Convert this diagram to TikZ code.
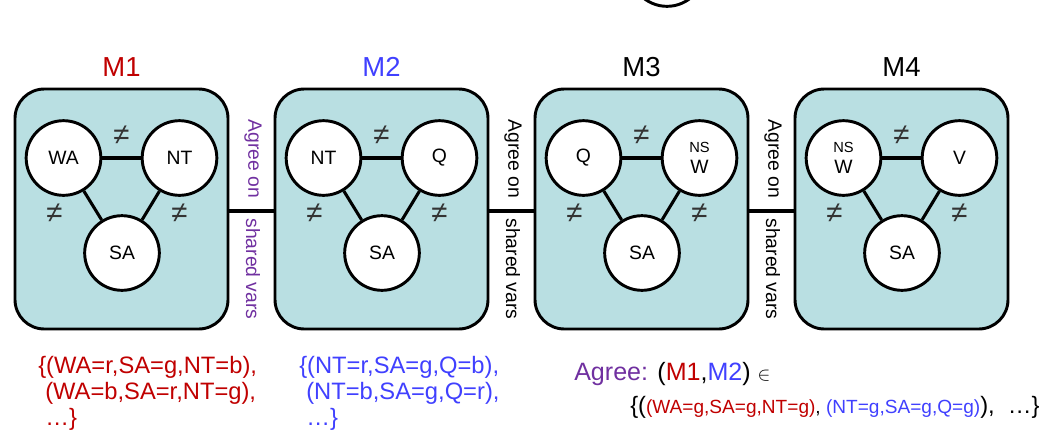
\documentclass[tikz,border=0pt]{standalone}
\usepackage{fontspec}
\setmainfont{Liberation Sans}
\usetikzlibrary{calc}
\definecolor{boxfill}{HTML}{B9DFE2}
\definecolor{mred}{HTML}{C00000}
\definecolor{mblue}{HTML}{4040FF}
\definecolor{mpurple}{HTML}{7030A0}
\newcommand{\mymodule}[6]{%
  \node[boxnode] (#1box) at (#2,209) {};
  \node[titlelab, text=#6] (#1title) at (#2,67) {#5};
  \node[varnode] (#1a) at (#2-58,158) {#3};
  \node[varnode] (#1b) at (#2+58,158) {#4};
  \node[varnode] (#1c) at (#2+0.5,253) {SA};
  \draw[cedge] (#1a) -- (#1b);
  \draw[cedge] (#1a) -- (#1c);
  \draw[cedge] (#1b) -- (#1c);
  \node[neqlab] (#1n1) at (#2,135) {≠};
  \node[neqlab] (#1n2) at (#2-67,213) {≠};
  \node[neqlab] (#1n3) at (#2+58,213) {≠};
}
\begin{document}
\begin{tikzpicture}[x=0.75pt,y=-0.75pt,
  boxnode/.style={draw, line width=2.2pt, fill=boxfill, rounded corners=22pt, minimum width=159.75pt, minimum height=180pt, inner sep=0},
  varnode/.style={circle, draw, line width=2.2pt, fill=white, minimum size=56pt, inner sep=0, font=\fontsize{14.5}{16}\selectfont, align=center},
  neqlab/.style={font=\fontsize{22}{24}\selectfont, inner sep=0, text=black!80},
  cedge/.style={line width=2.3pt},
  titlelab/.style={font=\fontsize{20.6}{24}\selectfont},
  agreelab/.style={rotate=-90, font=\fontsize{14.5}{16}\selectfont, inner sep=0},
  settext/.style={anchor=base west, inner sep=0, font=\fontsize{17.8}{20}\selectfont}
]
\useasboundingbox (0,0) rectangle (1054,440);
\node[varnode] (topc) at (667,-31) {};
\mymodule{m1}{121.5}{WA}{NT}{M1}{mred}
\mymodule{m2}{381.5}{NT}{Q}{M2}{mblue}
\mymodule{m3}{641.5}{Q}{\fontsize{11}{15}\selectfont NS\\W}{M3}{black}
\mymodule{m4}{901.5}{\fontsize{11}{15}\selectfont NS\\W}{V}{M4}{black}
\draw[cedge] ([yshift=-1.5pt]m1box.east) -- ([yshift=-1.5pt]m2box.west);
\draw[cedge] ([yshift=-1.5pt]m2box.east) -- ([yshift=-1.5pt]m3box.west);
\draw[cedge] ([yshift=-1.5pt]m3box.east) -- ([yshift=-1.5pt]m4box.west);
\node[agreelab, text=mpurple] (g1a) at (253,159) {Agree on};
\node[agreelab, text=mpurple] (g1b) at (253,269) {shared vars};
\node[agreelab] (g2a) at (513,159) {Agree on};
\node[agreelab] (g2b) at (513,269) {shared vars};
\node[agreelab] (g3a) at (773,159) {Agree on};
\node[agreelab] (g3b) at (773,269) {shared vars};
\node[settext, text=mred] (r1) at (38,373) {\{(WA=r,SA=g,NT=b),};
\node[settext, text=mred] (r2) at (45,399) {(WA=b,SA=r,NT=g),};
\node[settext, text=mred] (r3) at (45,425) {…\}};
\node[settext, text=mblue] (b1) at (299,373) {\{(NT=r,SA=g,Q=b),};
\node[settext, text=mblue] (b2) at (306,399) {(NT=b,SA=g,Q=r),};
\node[settext, text=mblue] (b3) at (306,425) {…\}};
\node[anchor=base west, inner sep=0, font=\fontsize{18.8}{22}\selectfont] (agree1) at (574,380) {\textcolor{mpurple}{Agree:} (\textcolor{mred}{M1},\textcolor{mblue}{M2}) {\fontsize{14}{16}\selectfont$\in$}};
\node[anchor=base west, inner sep=0, font=\fontsize{17.8}{20}\selectfont] (agree2) at (630,413) {\{({\fontsize{14.3}{16}\selectfont\textcolor{mred}{(WA=g,SA=g,NT=g)}, \textcolor{mblue}{(NT=g,SA=g,Q=g)}}),\ \ …\}};
\end{tikzpicture}
\end{document}
